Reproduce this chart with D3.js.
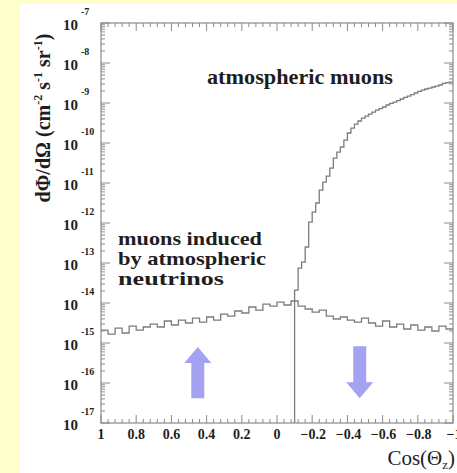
<!DOCTYPE html>
<html>
<head>
<meta charset="utf-8">
<script src="https://cdn.jsdelivr.net/npm/d3@7"></script>
<style>
  body { margin: 0; background: #ffffcc; }
  svg { display: block; }
  text { font-family: "Liberation Serif", "DejaVu Serif", serif; fill: #1e1e1e; }
</style>
</head>
<body>
<div id="chart"></div>
<script>
// neutrino-induced muons, 50 bins of 0.04 from cos = 1 down to cos = -1 (log10 of flux)
const nuEdgesStart = 1, nuBin = 0.04;
const nuLog = [
  -14.68, -14.78, -14.63, -14.75, -14.58, -14.68, -14.60, -14.53, -14.60, -14.45,
  -14.55, -14.43, -14.50, -14.38, -14.48, -14.35, -14.43, -14.28, -14.33, -14.20,
  -14.25, -14.10, -14.18, -14.03, -14.08, -13.98, -14.05, -13.95, -14.08, -14.15,
  -14.23, -14.18, -14.33, -14.40, -14.35, -14.43, -14.48, -14.38, -14.50, -14.58,
  -14.45, -14.60, -14.53, -14.65, -14.55, -14.68, -14.60, -14.70, -14.58, -14.65
];

// atmospheric muons, 45 bins of 0.02 from cos = -0.10 down to cos = -1 (log10 of flux)
const muStart = -0.10, muBin = 0.02;
const muLog = [
  -13.68, -13.13, -12.98, -12.60, -11.98, -11.73, -11.50, -11.18, -10.98, -10.83,
  -10.63, -10.38, -10.23, -10.10, -9.93, -9.75, -9.63, -9.53, -9.45, -9.38,
  -9.33, -9.28, -9.23, -9.18, -9.14, -9.10, -9.05, -9.01, -8.98, -8.94,
  -8.90, -8.86, -8.83, -8.79, -8.75, -8.71, -8.68, -8.65, -8.63, -8.60,
  -8.58, -8.55, -8.51, -8.49, -8.48
];

const horizonCos = -0.1;
const xTicks = [1, 0.8, 0.6, 0.4, 0.2, 0, -0.2, -0.4, -0.6, -0.8, -1];
const yDecades = [-17, -16, -15, -14, -13, -12, -11, -10, -9, -8, -7];

// arrows: [cos, log10 bottom, log10 top, direction]
const arrows = [
  { cos: 0.45, lo: -16.38, hi: -15.1, dir: "up" },
  { cos: -0.47, lo: -16.38, hi: -15.08, dir: "down" }
];

const W = 457, H = 473;
const frame = { left: 101, right: 453, top: 23, bottom: 423 };
const serif = "Liberation Serif, DejaVu Serif, serif";

const svg = d3.select("#chart").append("svg")
  .attr("width", W).attr("height", H);

svg.append("rect")
  .attr("x", 20).attr("y", 4)
  .attr("width", W - 20).attr("height", H - 4)
  .attr("fill", "#ffffff");

const x = d3.scaleLinear().domain([1, -1]).range([frame.left, frame.right]);
const y = d3.scaleLog().domain([1e-17, 1e-7]).range([frame.bottom, frame.top]);

const lineColor = "#7c7c7c";

// frame
svg.append("rect")
  .attr("x", frame.left).attr("y", frame.top)
  .attr("width", frame.right - frame.left)
  .attr("height", frame.bottom - frame.top)
  .attr("fill", "none")
  .attr("stroke", "#8a8a8a")
  .attr("stroke-width", 1.2);

// x ticks (inward, bottom and top)
const xMinor = d3.range(0, 51).map(i => 1 - i * 0.04);
const gx = svg.append("g").attr("stroke", "#8a8a8a").attr("stroke-width", 1);
xMinor.forEach((v, i) => {
  const len = i % 5 === 0 ? 8 : 4;
  gx.append("line").attr("x1", x(v)).attr("x2", x(v))
    .attr("y1", frame.bottom).attr("y2", frame.bottom - len);
  gx.append("line").attr("x1", x(v)).attr("x2", x(v))
    .attr("y1", frame.top).attr("y2", frame.top + len);
});

svg.append("g").selectAll("text")
  .data(xTicks)
  .join("text")
  .attr("x", d => x(d) + (d < 0 ? 1 : 0))
  .attr("y", 439)
  .attr("text-anchor", "middle")
  .attr("font-family", serif)
  .attr("font-weight", "bold")
  .attr("font-size", 14)
  .text(d => d3.format("")(d));

// y ticks (log, inward, left and right)
const gy = svg.append("g").attr("stroke", "#8a8a8a").attr("stroke-width", 1);
yDecades.forEach(d => {
  const base = Math.pow(10, d);
  [frame.left, frame.right].forEach((edge, k) => {
    const s = k === 0 ? 1 : -1;
    gy.append("line").attr("x1", edge).attr("x2", edge + s * 9)
      .attr("y1", y(base)).attr("y2", y(base));
    if (d < -7) {
      d3.range(2, 10).forEach(m => {
        gy.append("line").attr("x1", edge).attr("x2", edge + s * 4)
          .attr("y1", y(m * base)).attr("y2", y(m * base));
      });
    }
  });
});

const yLab = svg.append("g").selectAll("g")
  .data(yDecades)
  .join("g");
yLab.append("text")
  .attr("x", 78)
  .attr("y", d => y(Math.pow(10, d)) + 7)
  .attr("text-anchor", "end")
  .attr("font-family", serif)
  .attr("font-weight", "bold")
  .attr("font-size", 15)
  .text("10");
yLab.append("text")
  .attr("x", 81)
  .attr("y", d => y(Math.pow(10, d)) - 8)
  .attr("font-family", serif)
  .attr("font-weight", "bold")
  .attr("font-size", 10)
  .text(d => "-" + (-d));

// histograms
const line = d3.line().x(p => x(p[0])).y(p => y(Math.pow(10, p[1])));

const nuPts = [];
nuLog.forEach((v, i) => {
  const a = nuEdgesStart - i * nuBin;
  nuPts.push([a, v], [a - nuBin, v]);
});
svg.append("path")
  .attr("d", line(nuPts))
  .attr("fill", "none")
  .attr("stroke", lineColor)
  .attr("stroke-width", 1.3);

const nuAtHorizon = nuLog[Math.floor((nuEdgesStart - horizonCos) / nuBin)];
const muPts = [[muStart, nuAtHorizon]];
muLog.forEach((v, i) => {
  const a = muStart - i * muBin;
  muPts.push([a, v], [a - muBin, v]);
});
svg.append("path")
  .attr("d", line(muPts))
  .attr("fill", "none")
  .attr("stroke", lineColor)
  .attr("stroke-width", 1.3);

// horizon separator
svg.append("line")
  .attr("x1", x(horizonCos)).attr("x2", x(horizonCos))
  .attr("y1", y(Math.pow(10, nuAtHorizon))).attr("y2", frame.bottom)
  .attr("stroke", lineColor)
  .attr("stroke-width", 1.3);

// arrows
arrows.forEach(a => {
  const cx = x(a.cos);
  const yTop = y(Math.pow(10, a.hi)), yBot = y(Math.pow(10, a.lo));
  const sw = 6.5, hw = 13.5, hl = 16;
  let p;
  if (a.dir === "up") {
    p = [[cx, yTop], [cx + hw, yTop + hl], [cx + sw, yTop + hl], [cx + sw, yBot],
         [cx - sw, yBot], [cx - sw, yTop + hl], [cx - hw, yTop + hl]];
  } else {
    p = [[cx, yBot], [cx + hw, yBot - hl], [cx + sw, yBot - hl], [cx + sw, yTop],
         [cx - sw, yTop], [cx - sw, yBot - hl], [cx - hw, yBot - hl]];
  }
  svg.append("path")
    .attr("d", "M" + p.map(q => q.join(",")).join("L") + "Z")
    .attr("fill", "#a3a3f2");
});

// annotations
svg.append("text")
  .attr("x", 300).attr("y", 84)
  .attr("text-anchor", "middle")
  .attr("font-family", serif)
  .attr("font-weight", "bold")
  .attr("font-size", 20)
  .attr("textLength", 186)
  .attr("lengthAdjust", "spacingAndGlyphs")
  .text("atmospheric muons");

const nuLines = ["muons induced", "by atmospheric", "neutrinos"];
const nuWidths = [144, 148, 106];
svg.append("g").selectAll("text")
  .data(nuLines)
  .join("text")
  .attr("x", 118)
  .attr("y", (d, i) => 245 + i * 20)
  .attr("font-family", serif)
  .attr("font-weight", "bold")
  .attr("font-size", 19)
  .attr("textLength", (d, i) => nuWidths[i])
  .attr("lengthAdjust", "spacingAndGlyphs")
  .text(d => d);

// axis titles
const yt = svg.append("text")
  .attr("transform", "translate(50,118) rotate(-90)")
  .attr("text-anchor", "middle")
  .attr("font-family", serif)
  .attr("font-weight", "bold")
  .attr("font-size", 20);
yt.append("tspan").text("dΦ/dΩ (cm");
yt.append("tspan").attr("dy", -8).attr("font-size", 12).text("-2");
yt.append("tspan").attr("dy", 8).text(" s");
yt.append("tspan").attr("dy", -8).attr("font-size", 12).text("-1");
yt.append("tspan").attr("dy", 8).text(" sr");
yt.append("tspan").attr("dy", -8).attr("font-size", 12).text("-1");
yt.append("tspan").attr("dy", 8).text(")");

const xt = svg.append("text")
  .attr("x", 455).attr("y", 465)
  .attr("text-anchor", "end")
  .attr("font-family", serif)
  .attr("font-size", 21);
xt.append("tspan").text("Cos(Θ");
xt.append("tspan").attr("dy", 4).attr("font-size", 13).text("z");
xt.append("tspan").attr("dy", -4).text(")");
</script>
</body>
</html>
